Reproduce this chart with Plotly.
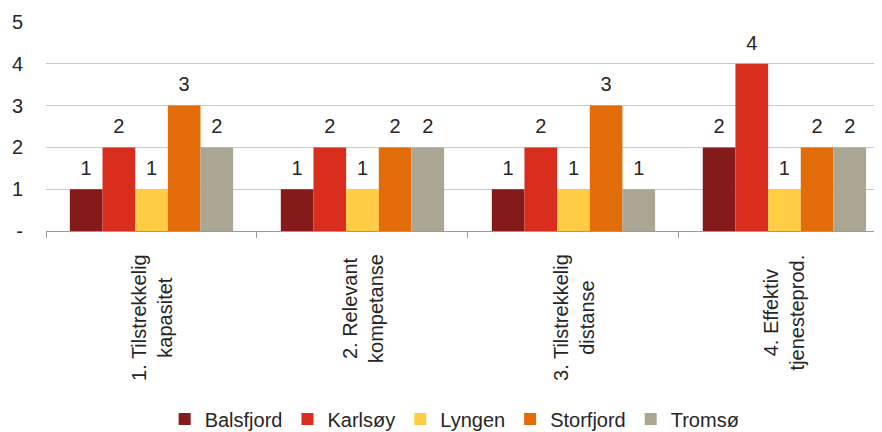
import plotly.graph_objects as go

categories = ["1. Tilstrekkelig<br>kapasitet", "2. Relevant<br>kompetanse",
              "3. Tilstrekkelig<br>distanse", "4. Effektiv<br>tjenesteprod."]
cat_ids = ["c1", "c2", "c3", "c4"]
series_names = ["Balsfjord", "Karlsøy", "Lyngen", "Storfjord", "Tromsø"]
balsfjord = [1, 1, 1, 2]
karlsoy = [2, 2, 2, 4]
lyngen = [1, 1, 1, 1]
storfjord = [3, 2, 3, 2]
tromso = [2, 2, 1, 2]
y_ticks = [0, 1, 2, 3, 4, 5]
y_ticktext = ["-", "1", "2", "3", "4", "5"]

colors = ["#841A1A", "#D92E1E", "#FFCC44", "#E26B0A", "#ABA593"]
values = [balsfjord, karlsoy, lyngen, storfjord, tromso]

FONT = "Liberation Sans, Arial, sans-serif"
TXT = "#262626"
FS = 20

fig = go.Figure()
for name, vals, col in zip(series_names, values, colors):
    fig.add_trace(go.Bar(x=cat_ids, y=vals, name=name, marker_color=col,
                         marker_line_width=0, offsetgroup=name))
for name, vals in zip(series_names, values):
    fig.add_trace(go.Scatter(x=cat_ids, y=vals, mode="markers+text", text=[str(v) for v in vals],
                             textposition="top center", offsetgroup=name,
                             marker=dict(size=13, opacity=0), showlegend=False,
                             textfont=dict(size=FS, color=TXT, family=FONT), hoverinfo="skip"))

for cid, lab in zip(cat_ids, categories):
    fig.add_annotation(x=cid, xref="x", y=0, yref="y", text=lab, textangle=-90,
                       showarrow=False, yanchor="top", xanchor="center", yshift=-21,
                       align="center", font=dict(size=FS, color=TXT, family=FONT))

# the page body adds an 8px offset, so the margins are reduced by 8px
fig.update_layout(
    width=882, height=432,
    margin=dict(l=38, r=10, t=14, b=209, autoexpand=False),
    barmode="group", bargap=0.226, bargroupgap=0,
    scattermode="group", scattergap=0.226,
    plot_bgcolor="white", paper_bgcolor="white",
    font=dict(family=FONT, size=FS, color=TXT),
    legend=dict(orientation="h", x=0.49, xanchor="center", y=-0.90, yanchor="middle",
                font=dict(size=FS, color=TXT), itemclick=False, tracegroupgap=0),
    showlegend=True,
)
fig.update_xaxes(range=[-0.5, 3.453], showticklabels=False, ticks="outside", tickson="boundaries",
                 ticklen=6, tickcolor="#9a9a9a", showline=True, linecolor="#9a9a9a",
                 linewidth=1, showgrid=False, zeroline=False, automargin=False)
fig.update_yaxes(range=[0, 5], tickvals=y_ticks, ticktext=y_ticktext, showgrid=True,
                 gridcolor="#c8c8c8", gridwidth=1, zeroline=False, showline=False, automargin=False,
                 ticklabelstandoff=22, tickfont=dict(size=FS, color=TXT, family=FONT))

fig.write_html("out.html")
